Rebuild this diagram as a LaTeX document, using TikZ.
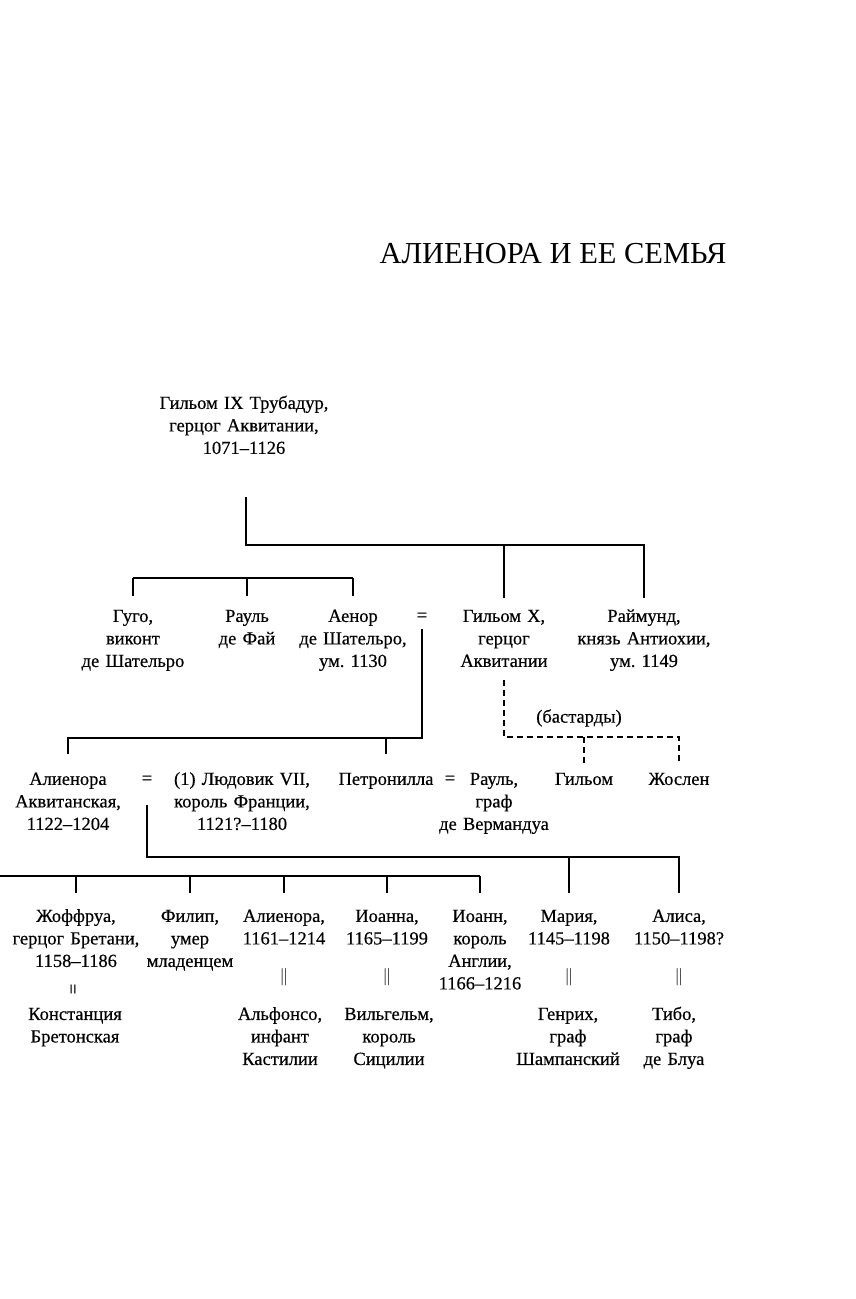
\documentclass[tikz,border=0pt]{standalone}
\usepackage{fontspec}
\setmainfont{Liberation Serif}[FakeBold=0.4]
\usepackage{graphicx}
\usetikzlibrary{positioning}
\frenchspacing

\newcommand{\persfont}{\fontsize{18.5pt}{22.5pt}\selectfont}
\newcommand{\topstrut}{\vrule height 15.75pt depth 0pt width 0pt}
\newcommand{\botstrut}{\vrule height 0pt depth 6.75pt width 0pt}

\begin{document}
\begin{tikzpicture}[x=1pt,y=-1pt,
    pers/.style={align=center,text width=170pt,inner sep=0pt,anchor=north,font=\persfont,
      execute at begin node=\topstrut,execute at end node=\botstrut},
    eq/.style={inner sep=0pt,font=\persfont},
    tree/.style={line width=1.1pt},
    bast/.style={tree,dash pattern=on 6pt off 4pt}]
    \useasboundingbox (0,0) rectangle (856,1299);
    \node (title) at (553,254) {\fontspec{Liberation Serif}\fontsize{30.5pt}{36pt}\selectfont АЛИЕНОРА И ЕЕ СЕМЬЯ};

    \node[pers] (g_ix)    at (244,393) {Гильом IX Трубадур,\\ герцог Аквитании,\\ 1071--1126};

    \node[pers] (hugo)    at (133,606) {Гуго,\\ виконт\\ де Шательро};
    \node[pers] (raoul_f) at (247,606) {Рауль\\ де Фай};
    \node[pers] (aenor)   at (353,606) {Аенор\\ де Шательро,\\ ум. 1130};
    \node[eq]   (eq_a)    at (422,617) {=};
    \node[pers] (g_x)     at (504,606) {Гильом X,\\ герцог\\ Аквитании};
    \node[pers] (raymond) at (644,606) {Раймунд,\\ князь Антиохии,\\ ум. 1149};

    \node[eq]   (bast)     at (579,718) {(бастарды)};
    \node[pers] (eleonora) at (68,769)  {Алиенора\\ Аквитанская,\\ 1122--1204};
    \node[eq]   (eq_e)     at (147,780) {=};
    \node[pers] (louis)    at (242,769) {(1) Людовик VII,\\ король Франции,\\ 1121?--1180};
    \node[pers] (petr)     at (386,769) {Петронилла};
    \node[eq]   (eq_p)     at (450,780) {=};
    \node[pers] (raoul_v)  at (494,769) {Рауль,\\ граф\\ де Вермандуа};
    \node[pers] (b_guil)   at (584,769) {Гильом};
    \node[pers] (b_josc)   at (679,769) {Жослен};

    \node[pers] (geoffrey)   at (76,906)  {Жоффруа,\\ герцог Бретани,\\ 1158--1186};
    \node[pers] (philip)     at (190,906) {Филип,\\ умер\\ младенцем};
    \node[pers] (eleonora_c) at (284,906) {Алиенора,\\ 1161--1214};
    \node[pers] (joanna)     at (387,906) {Иоанна,\\ 1165--1199};
    \node[pers] (john)       at (480,906) {Иоанн,\\ король\\ Англии,\\ 1166--1216};
    \node[pers] (marie)      at (569,906) {Мария,\\ 1145--1198};
    \node[pers] (alix)       at (679,906) {Алиса,\\ 1150--1198?};

    \node[eq,rotate=90] (m_geo) at (75,989) {=};
    \node[eq] (m_ele) [below=17pt of eleonora_c] {$\|$};
    \node[eq] (m_joa) [below=17pt of joanna] {$\|$};
    \node[eq] (m_mar) [below=17pt of marie] {$\|$};
    \node[eq] (m_ali) [below=17pt of alix] {$\|$};

    \node[pers] (konst)   at (75,1004)  {Констанция\\ Бретонская};
    \node[pers] (alfonso) at (280,1004) {Альфонсо,\\ инфант\\ Кастилии};
    \node[pers] (william) at (389,1004) {Вильгельм,\\ король\\ Сицилии};
    \node[pers] (henri)   at (568,1004) {Генрих,\\ граф\\ Шампанский};
    \node[pers] (thibaut) at (674,1004) {Тибо,\\ граф\\ де Блуа};

    \coordinate (top_g) at (246,497);
    \coordinate (bar_g) at (0,545);
    \coordinate (bar_c) at (0,578);
    \coordinate (bar_a) at (0,738);
    \coordinate (bar_b) at (0,737);
    \coordinate (bar_l) at (0,857);
    \coordinate (bar_h) at (0,876);

    \draw[tree,shorten >=8pt] (top_g) |- (raymond.north |- bar_g) -- (raymond.north);
    \draw[tree,shorten >=8pt] (g_x.north |- bar_g) -- (g_x.north);
    \draw[tree] (hugo.north |- bar_c) -- (aenor.north |- bar_c);
    \foreach \n in {hugo,raoul_f,aenor}
      \draw[tree,shorten >=10pt] (\n.north |- bar_c) -- (\n.north);
    \draw[tree,shorten <=8pt,shorten >=15pt] (eq_a.south) |- (eleonora.north |- bar_a) -- (eleonora.north);
    \draw[tree,shorten >=15pt] (petr.north |- bar_a) -- (petr.north);
    \draw[bast,shorten <=6pt,shorten >=6pt] (g_x.south) |- (b_josc.north |- bar_b) -- (b_josc.north);
    \draw[bast,shorten >=6pt] (b_guil.north |- bar_b) -- (b_guil.north);
    \draw[tree,shorten <=21pt,shorten >=13pt] (eq_e.south) |- (alix.north |- bar_l) -- (alix.north);
    \draw[tree,shorten >=13pt] (marie.north |- bar_l) -- (marie.north);
    \draw[tree] (bar_h) -- (john.north |- bar_h);
    \foreach \n in {geoffrey,philip,eleonora_c,joanna,john}
      \draw[tree,shorten >=13pt] (\n.north |- bar_h) -- (\n.north);
\end{tikzpicture}
\end{document}
